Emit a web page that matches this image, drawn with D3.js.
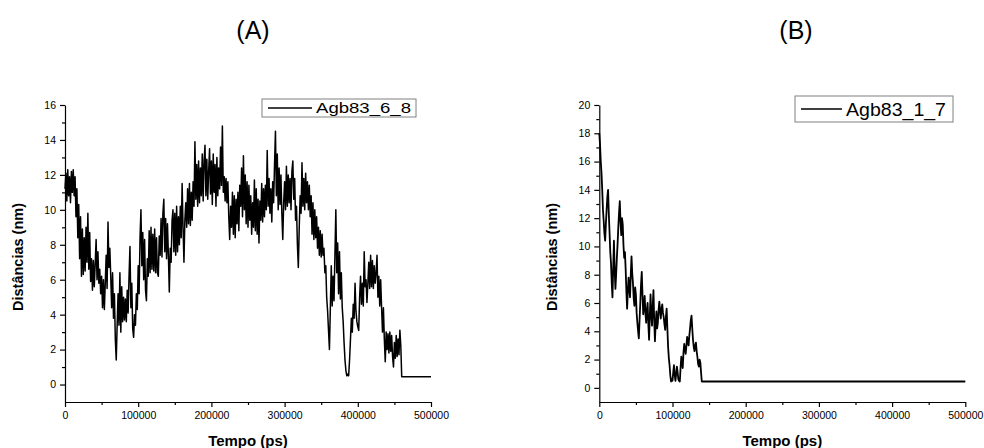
<!DOCTYPE html>
<html>
<head>
<meta charset="utf-8">
<script src="https://cdn.jsdelivr.net/npm/d3@7"></script>
<style>
  body { margin: 0; background: #fff; }
  text { font-family: "Liberation Sans", Arial, sans-serif; fill: #000; }
</style>
</head>
<body>
<div id="chart"></div>
<script>
// Dados: distância (nm) amostrada a cada "step" ps
const stepA = 1250;
const valoresA = [
  11.2,12.1,10.5,12.3,10.8,11.9,10.4,12.2,11.0,12.3,10.8,11.9,9.6,11.2,8.4,10.3,7.2,9.6,6.2,8.9,
  6.3,8.4,6.5,9.0,7.0,9.8,6.6,8.7,5.9,7.2,5.4,7.1,5.6,6.9,8.3,6.0,7.6,5.8,6.6,5.2,
  6.2,4.4,6.0,4.3,5.8,7.4,5.5,9.3,6.7,7.8,6.2,4.4,6.4,3.8,5.2,2.6,1.4,3.4,5.2,3.4,
  6.4,3.0,5.6,3.6,5.0,3.7,4.9,3.6,5.4,4.1,6.2,7.9,4.4,5.8,3.2,2.7,4.0,3.4,5.2,4.3,
  6.8,5.2,8.4,10.0,6.8,8.7,6.0,8.3,5.4,4.8,7.2,6.2,8.8,6.4,9.0,6.6,8.6,6.5,8.9,6.4,
  8.4,6.4,6.2,8.5,7.4,9.5,7.3,9.8,10.6,7.6,9.5,7.2,9.2,7.4,5.3,7.8,7.0,9.4,10.0,7.6,
  9.8,7.4,10.2,7.6,9.6,8.0,10.2,8.4,11.5,9.0,7.0,9.4,10.4,9.0,11.2,9.2,11.5,9.1,11.0,9.4,
  11.6,10.2,13.9,10.6,12.6,10.2,12.8,10.4,12.4,10.8,13.2,10.5,12.8,13.7,10.8,12.9,10.6,12.2,13.5,10.9,
  12.8,10.3,13.2,11.0,12.6,10.2,13.0,10.8,12.4,11.2,13.6,11.4,14.8,11.0,11.9,10.5,11.8,10.4,11.6,9.6,
  8.3,10.2,9.0,11.0,8.6,10.8,8.4,10.6,9.2,11.0,8.8,11.4,10.2,12.4,9.6,13.1,10.0,12.0,9.2,11.6,
  9.0,11.4,9.4,10.8,8.6,10.4,9.0,11.7,8.8,11.2,8.6,10.6,8.1,10.5,9.4,11.5,9.3,11.2,9.6,11.4,
  10.0,13.4,10.2,11.8,9.8,11.2,9.3,11.6,10.4,12.6,14.5,10.8,13.2,10.0,12.4,10.3,12.0,9.8,8.3,10.4,
  11.6,10.0,12.5,10.2,12.0,10.4,11.8,10.0,12.2,12.8,10.6,11.8,9.4,10.2,8.0,6.7,9.0,10.8,9.8,12.7,
  10.2,11.8,10.0,12.1,10.4,11.6,10.0,11.4,9.6,10.8,8.6,10.4,8.3,10.0,8.4,9.6,7.8,9.0,7.4,8.8,
  7.3,8.6,7.4,7.8,6.4,6.8,5.0,4.2,3.1,2.0,4.4,6.8,4.5,6.2,4.8,7.4,10.0,6.4,8.1,5.2,
  7.6,4.9,6.4,4.4,3.6,2.4,1.4,0.8,0.5,0.6,0.5,1.4,2.6,3.8,3.0,4.6,3.8,5.8,4.2,3.6,
  3.3,3.1,5.0,6.2,4.6,5.8,4.5,7.6,5.6,6.0,4.7,5.8,7.0,5.5,7.4,5.6,7.1,5.5,6.8,5.8,
  6.4,7.4,5.0,6.2,4.5,6.0,4.4,3.0,4.4,2.6,1.3,3.0,2.0,2.9,1.8,3.0,1.9,2.8,1.6,1.0,
  2.4,1.5,2.8,1.6,2.6,1.7,3.1,2.2,0.45
];
const fimA = [500000, 0.45];

const stepB = 1000;
const valoresB = [
  18.0,17.2,16.0,15.2,14.0,12.6,11.8,10.9,10.4,11.6,12.6,13.5,14.0,12.3,11.0,9.6,8.8,7.4,6.4,8.5,
  10.4,8.3,7.0,8.0,9.2,10.2,11.4,12.4,13.2,11.7,10.8,12.0,11.6,10.1,9.2,9.6,8.4,6.8,5.6,6.9,
  7.8,7.0,6.4,8.0,9.3,8.1,7.4,6.3,5.8,7.1,6.6,5.3,4.6,4.0,3.5,4.8,6.0,7.3,8.2,6.6,
  5.2,5.8,6.5,5.3,4.6,5.5,6.0,4.5,3.4,5.1,6.6,5.2,4.4,5.8,6.9,4.8,3.3,4.5,5.4,4.2,
  4.6,5.5,6.1,5.4,4.9,5.6,5.9,5.3,5.0,4.5,4.1,5.0,5.6,4.2,2.9,2.1,1.6,0.9,0.45,0.6,
  0.5,1.1,1.6,0.9,0.5,1.0,1.5,1.1,0.6,0.5,0.45,1.4,2.2,1.7,1.4,2.5,3.1,2.7,2.4,3.0,
  3.6,3.2,3.0,3.7,4.2,4.8,5.1,4.2,3.4,2.9,2.6,3.0,3.2,2.6,2.2,1.7,1.5,2.0,1.8,1.1,
  0.45
];
const fimB = [500000, 0.45];

const ticksX = [0, 100000, 200000, 300000, 400000, 500000];
const ticksYA = [0, 2, 4, 6, 8, 10, 12, 14, 16];
const ticksYB = [0, 2, 4, 6, 8, 10, 12, 14, 16, 18, 20];
const legendas = ["Agb83_6_8", "Agb83_1_7"];
const titulos = ["(A)", "(B)"];

const width = 984, height = 448;

var svg = d3
  .select("#chart")
  .append("svg")
  .attr("width", width)
  .attr("height", height);

function toPoints(valores, step, fim) {
  let pts = valores.map(function (v, i) {
    return [i * step, v];
  });
  pts.push(fim);
  return pts;
}

function drawPanel(p) {
  let x = d3.scaleLinear().domain([0, 500000]).range([p.left, p.left + 366]);
  let y = d3.scaleLinear().domain(p.yDomain).range([402, 105]);
  let g = svg.append("g");

  // eixo x (ticks principais + secundarios)
  let minorX = d3.range(50000, 500000, 100000);
  g.append("g")
    .attr("transform", "translate(0,402)")
    .call(d3.axisBottom(x).tickValues(minorX).tickSize(3).tickFormat(""))
    .call(function (s) { s.select(".domain").remove(); });
  let ax = g.append("g")
    .attr("transform", "translate(0,402)")
    .call(d3.axisBottom(x).tickValues(ticksX).tickSize(5).tickSizeOuter(0)
      .tickPadding(5).tickFormat(d3.format("d")));
  ax.selectAll("text").style("font-size", "10.5px");

  // eixo y
  let minorY = p.ticksY.slice(0, -1).map(function (t) { return t + 1; });
  g.append("g")
    .attr("transform", "translate(" + p.left + ",0)")
    .call(d3.axisLeft(y).tickValues(minorY).tickSize(3).tickFormat(""))
    .call(function (s) { s.select(".domain").remove(); });
  let ay = g.append("g")
    .attr("transform", "translate(" + p.left + ",0)")
    .call(d3.axisLeft(y).tickValues(p.ticksY).tickSize(5).tickSizeOuter(0)
      .tickPadding(4));
  ay.selectAll("text").style("font-size", "10.5px");

  g.selectAll(".domain, .tick line").attr("stroke", "#000").attr("stroke-width", 1.2);

  // serie
  g.append("path")
    .datum(p.data)
    .attr("d", d3.line().x(function (d) { return x(d[0]); }).y(function (d) { return y(d[1]); }))
    .style("fill", "none")
    .attr("stroke", "#000")
    .attr("stroke-width", p.lw)
    .attr("stroke-linejoin", "round");

  // titulos dos eixos
  g.append("text")
    .attr("x", p.left + 183)
    .attr("y", 446)
    .attr("text-anchor", "middle")
    .style("font-size", "15px")
    .style("font-weight", "bold")
    .text("Tempo (ps)");
  g.append("text")
    .attr("transform", "translate(" + (p.left - 47) + ",257) rotate(-90)")
    .attr("text-anchor", "middle")
    .attr("dy", "0.35em")
    .style("font-size", "14.5px")
    .style("font-weight", "bold")
    .text("Distâncias (nm)");

  // titulo do painel
  g.append("text")
    .attr("x", p.titleX)
    .attr("y", 39)
    .attr("text-anchor", "middle")
    .style("font-size", "25px")
    .text(p.title);

  // legenda
  let L = p.legend;
  g.append("rect")
    .attr("x", L.x).attr("y", L.y)
    .attr("width", L.w).attr("height", L.h)
    .attr("fill", "#fff")
    .attr("stroke", "#808080")
    .attr("stroke-width", 1);
  g.append("line")
    .attr("x1", L.x + 6).attr("x2", L.x + 6 + L.line)
    .attr("y1", L.y + L.h / 2).attr("y2", L.y + L.h / 2)
    .attr("stroke", "#000").attr("stroke-width", 1.5);
  g.append("text")
    .attr("x", L.x + 10 + L.line)
    .attr("y", L.y + L.h / 2)
    .attr("dy", "0.36em")
    .attr("textLength", L.tw)
    .attr("lengthAdjust", "spacingAndGlyphs")
    .style("font-size", L.fs + "px")
    .text(p.label);
}

drawPanel({
  left: 65,
  yDomain: [-1, 16],
  ticksY: ticksYA,
  data: toPoints(valoresA, stepA, fimA),
  lw: 1.5,
  title: titulos[0],
  titleX: 253,
  label: legendas[0],
  legend: { x: 262, y: 99, w: 154, h: 18, line: 44, tw: 95, fs: 15 }
});

drawPanel({
  left: 599.3,
  yDomain: [-1, 20],
  ticksY: ticksYB,
  data: toPoints(valoresB, stepB, fimB),
  lw: 1.8,
  title: titulos[1],
  titleX: 796,
  label: legendas[1],
  legend: { x: 795, y: 96, w: 158, h: 26, line: 41, tw: 100, fs: 19 }
});
</script>
</body>
</html>
